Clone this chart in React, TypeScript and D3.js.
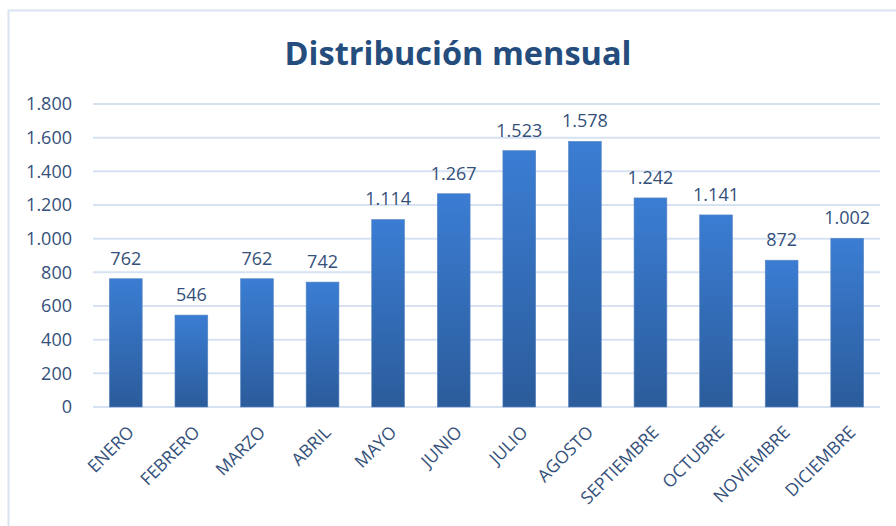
import * as d3 from "d3";
import { useEffect, useRef } from "react";

const months = ["ENERO", "FEBRERO", "MARZO", "ABRIL", "MAYO", "JUNIO", "JULIO", "AGOSTO", "SEPTIEMBRE", "OCTUBRE", "NOVIEMBRE", "DICIEMBRE"];
const counts = [762, 546, 762, 742, 1114, 1267, 1523, 1578, 1242, 1141, 872, 1002];
const yTicks = [0, 200, 400, 600, 800, 1000, 1200, 1400, 1600, 1800];

const width = 896;
const height = 526;
const margin = { top: 104, right: 16, bottom: 119, left: 93 };

const fmt = (v: number) => d3.format(",")(v).replace(/,/g, ".");

export default function App() {
  const ref = useRef<SVGSVGElement>(null);

  useEffect(() => {
    const svg = d3.select(ref.current);
    svg.selectAll("*").remove();

    const innerW = width - margin.left - margin.right;
    const innerH = height - margin.top - margin.bottom;
    const font = "'Open Sans', sans-serif";

    const x = d3.scaleBand().domain(months).range([0, innerW]).paddingInner(0.5).paddingOuter(0.25);
    const y = d3.scaleLinear().domain([0, 1800]).range([innerH, 0]);

    const defs = svg.append("defs");
    const grad = defs.append("linearGradient").attr("id", "barGrad").attr("x1", 0).attr("y1", 0).attr("x2", 0).attr("y2", 1);
    grad.append("stop").attr("offset", "0%").attr("stop-color", "#3b7dd3");
    grad.append("stop").attr("offset", "100%").attr("stop-color", "#2b5c9b");

    // marco del gráfico
    svg.append("rect")
      .attr("x", 8.5).attr("y", 10.5)
      .attr("width", width + 10).attr("height", height + 10)
      .attr("fill", "#fff").attr("stroke", "#d9e4f2").attr("stroke-width", 2);

    svg.append("text")
      .attr("x", 458).attr("y", 65)
      .attr("text-anchor", "middle")
      .style("font-family", font).style("font-size", "32.5px").style("font-weight", 700)
      .style("fill", "#244d7e")
      .text("Distribución mensual");

    const g = svg.append("g").attr("transform", `translate(${margin.left},${margin.top})`);

    // rejilla
    g.selectAll(".grid").data(yTicks).enter().append("line")
      .attr("x1", 0).attr("x2", innerW)
      .attr("y1", d => y(d)).attr("y2", d => y(d))
      .attr("stroke", "#d6e2f2").attr("stroke-width", 2);

    g.selectAll(".ylab").data(yTicks).enter().append("text")
      .attr("x", -21).attr("y", d => y(d)).attr("dy", "0.36em")
      .attr("text-anchor", "end")
      .style("font-family", font).style("font-size", "18px").style("fill", "#34507a")
      .text(d => fmt(d));

    g.selectAll(".bar").data(counts).enter().append("rect")
      .attr("x", (_, i) => x(months[i])!)
      .attr("y", d => y(d))
      .attr("width", x.bandwidth())
      .attr("height", d => innerH - y(d))
      .attr("fill", "url(#barGrad)")
      .attr("stroke", "#5a86bf").attr("stroke-width", 0.6);

    g.selectAll(".val").data(counts).enter().append("text")
      .attr("x", (_, i) => x(months[i])! + x.bandwidth() / 2)
      .attr("y", d => y(d) - 14)
      .attr("text-anchor", "middle")
      .style("font-family", font).style("font-size", "18px").style("fill", "#34507a")
      .text(d => fmt(d));

    g.selectAll(".xlab").data(months).enter().append("text")
      .attr("transform", d => `translate(${x(d)! + x.bandwidth() / 2 + 5},${innerH + 22}) rotate(-45)`)
      .attr("text-anchor", "end")
      .attr("dy", "0.36em")
      .style("font-family", font).style("font-size", "17.5px").style("fill", "#34507a")
      .text(d => d);
  }, []);

  return (
    <div style={{ position: "absolute", left: 0, top: 0 }}>
      <svg ref={ref} width={width} height={height} style={{ display: "block" }} />
    </div>
  );
}
